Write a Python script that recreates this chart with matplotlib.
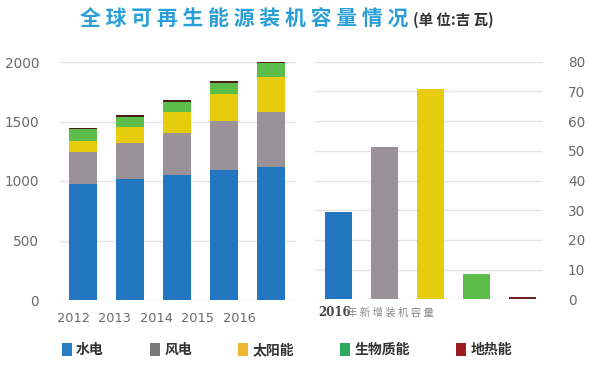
import numpy as np
import matplotlib.pyplot as plt
from matplotlib.patches import Patch

plt.rcParams['font.family'] = ['Noto Sans CJK SC', 'DejaVu Sans']

years = ['2012', '2013', '2014', '2015', '2016']
hydro = [975, 1015, 1053, 1092, 1120]
wind = [266, 302, 347, 412, 462]
solar = [98, 139, 182, 225, 295]
bio = [95, 84, 84, 97, 118]
geo = [9, 12, 13, 14, 5]

new_2016 = [29.5, 51.2, 70.8, 8.5, 0.7]

names = ['水电', '风电', '太阳能', '生物质能', '地热能']
bar_colors = ['#2277c0', '#9a9298', '#e6cc0c', '#5cbd4a', '#4a2014']
legend_colors = ['#2a7fc4', '#787878', '#f0b530', '#2eaa5c', '#9c1c20']

W, H = 596, 371
fig = plt.figure(figsize=(W / 100, H / 100), dpi=100)

tick_kw = dict(colors='#6a6a6a', length=0)
grid_c = '#e3e3e3'

# left: stacked cumulative capacity
ax1 = fig.add_axes([60 / W, 1 - 300 / H, 236 / W, 238 / H])
x = np.arange(len(years))
bottom = np.zeros(len(years))
for vals, c in zip([hydro, wind, solar, bio, geo], bar_colors):
    ax1.bar(x, vals, 0.6, bottom=bottom, color=c, zorder=3, clip_on=False)
    bottom += np.array(vals)
ax1.set_ylim(0, 2000)
ax1.set_xlim(-0.49, 4.53)
ax1.set_yticks([0, 500, 1000, 1500, 2000])
ax1.set_xticks(x * 0.883 - 0.213)
ax1.set_xticklabels(years, family='DejaVu Sans')
for lab in ax1.get_yticklabels():
    lab.set_family('DejaVu Sans')
ax1.tick_params(axis='y', pad=15, labelsize=9.8, **tick_kw)
ax1.tick_params(axis='x', pad=9, labelsize=9.3, **tick_kw)
ax1.grid(axis='y', color=grid_c, lw=1, zorder=0)
for s in ax1.spines.values():
    s.set_visible(False)

# right: 2016 new capacity
ax2 = fig.add_axes([315 / W, 1 - 299.3 / H, 228 / W, 237.6 / H])
x2 = np.arange(len(new_2016))
ax2.bar(x2, new_2016, 0.59, color=bar_colors[:4] + ['#6b2222'], zorder=3)
ax2.set_ylim(0, 80)
ax2.set_xlim(-0.52, 4.44)
ax2.set_yticks(np.arange(0, 81, 10))
ax2.yaxis.tick_right()
ax2.set_xticks([])
for lab in ax2.get_yticklabels():
    lab.set_family('DejaVu Sans')
ax2.tick_params(axis='y', pad=18, labelsize=9.8, **tick_kw)
ax2.grid(axis='y', color=grid_c, lw=1, zorder=0)
for s in ax2.spines.values():
    s.set_visible(False)

fig.text(318 / W, 1 - 313 / H, '2016', family='DejaVu Serif', fontweight='bold',
         fontsize=8.5, color='#444444', va='center', ha='left')
fig.text(347 / W, 1 - 313 / H, '年 新 增 装 机 容 量', fontsize=7.5, color='#8a8a8a',
         va='center', ha='left')

# title
fig.text(80 / W, 1 - 19 / H, '全 球 可 再 生 能 源 装 机 容 量 情 况', fontsize=15,
         fontweight='bold', color='#2a9ed6', va='center', ha='left')
fig.text(413 / W, 1 - 20 / H, '(单 位:吉 瓦)', fontsize=10.5, fontweight='bold',
         color='#333333', va='center', ha='left')

handles = [Patch(facecolor=c, edgecolor='none') for c in legend_colors]
fig.legend(handles, names, loc='center', bbox_to_anchor=(287 / W, 1 - 350 / H),
           ncol=5, frameon=False, prop={'size': 10, 'weight': 'bold'},
           handlelength=0.7, handleheight=1.1,
           handletextpad=0.3, columnspacing=3.35, labelcolor='#333333')

fig.savefig('out.png', dpi=100, facecolor='white')
